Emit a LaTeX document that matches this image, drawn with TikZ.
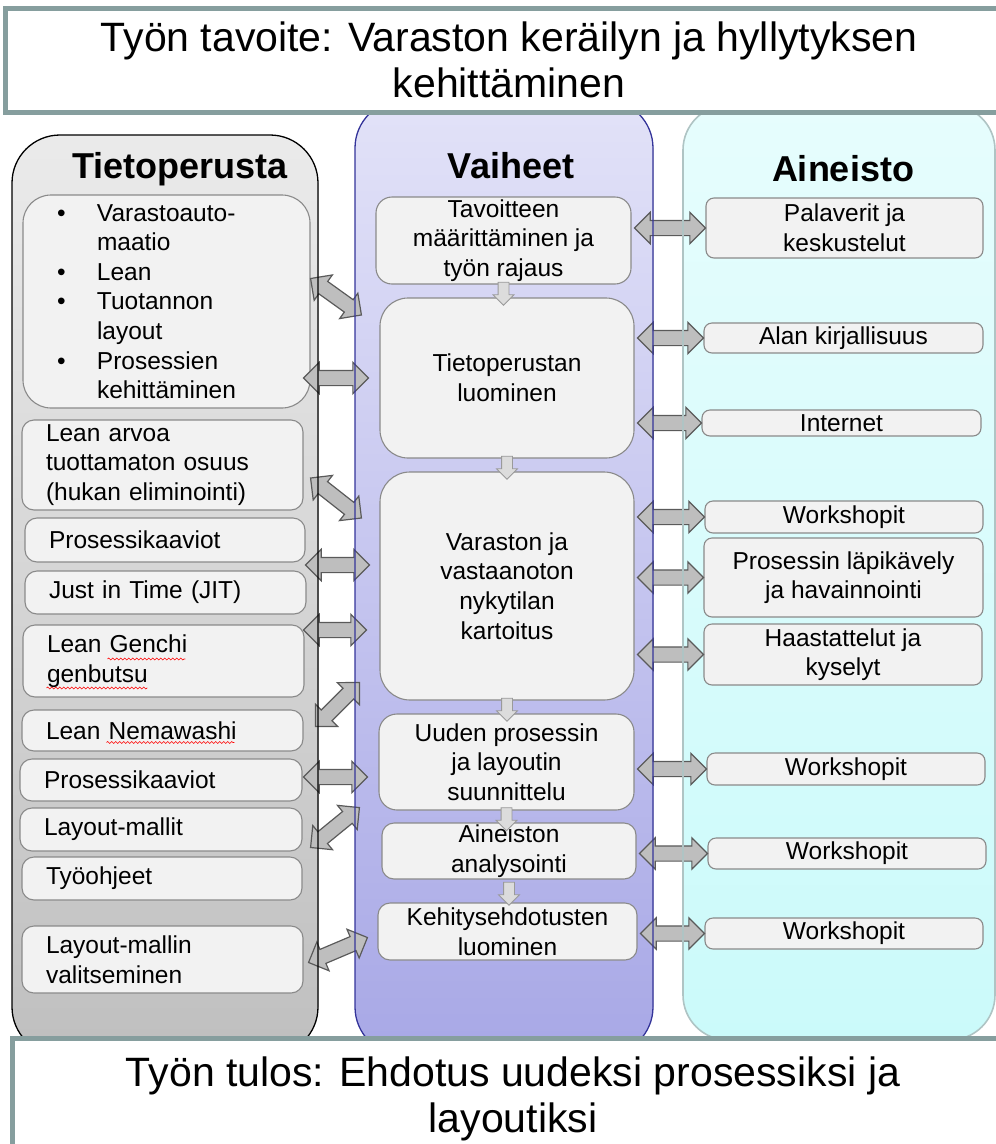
\documentclass[tikz,border=0pt]{standalone}
\usepackage{fontspec}
\setmainfont{Liberation Sans}
\usetikzlibrary{shapes.arrows,calc,decorations.pathmorphing}

\definecolor{framegray}{HTML}{869E9E}
\definecolor{boxfill}{HTML}{F2F2F2}
\definecolor{boxline}{HTML}{8A8A8A}
\definecolor{arrfill}{HTML}{BEBEBE}
\definecolor{arrline}{HTML}{5A5A5A}
\definecolor{stepline}{HTML}{9A9A9A}
\definecolor{stepfill}{HTML}{DCDCDC}
\definecolor{vaiheline}{HTML}{34349A}
\definecolor{aineline}{HTML}{AFC4C4}

\newcommand{\bulitem}{\makebox[40pt][l]{\textbullet}}
\newcommand{\bulcont}{\hspace*{40pt}}
% block double arrow between two points
\newcommand{\dblink}[2]{\path let \p1=(#1), \p2=(#2), \n1={atan2(\y2-\y1,\x2-\x1)}, \n2={veclen(\x2-\x1,\y2-\y1)} in node[dblarrow, rotate=\n1, minimum height=\n2] at ($(\p1)!0.5!(\p2)$) {};}

\begin{document}
\begin{tikzpicture}[x=1pt,y=-1pt,
  pbox/.style={draw=boxline, fill=boxfill, line width=1.1pt, inner sep=0pt, rounded corners=12pt, font=\fontsize{24.5}{29.6}\selectfont, align=center},
  colhead/.style={font=\fontsize{36}{40}\selectfont\bfseries, anchor=base},
  titletext/.style={font=\fontsize{41}{46}\selectfont, align=center},
  dblarrow/.style={double arrow, draw=arrline, fill=arrfill, line width=1.2pt, inner xsep=0pt, inner ysep=7pt, double arrow head extend=8pt},
  downarr/.style={single arrow, draw=stepline, fill=stepfill, line width=0.8pt, inner xsep=0pt, inner ysep=5pt, single arrow head extend=5pt, minimum height=23pt, rotate=-90},
  spell/.style={red, line width=0.6pt, decorate, decoration={snake, amplitude=1pt, segment length=4pt}}]
\useasboundingbox (0,0) rectangle (996,1144);

% columns
\fill[rounded corners=48pt, top color=black!8, bottom color=black!25] (12,135) rectangle (318,1055);
\fill[rounded corners=48pt, top color={rgb,255:red,226;green,226;blue,248}, bottom color={rgb,255:red,168;green,168;blue,230}] (355,100) rectangle (653,1055);
\fill[rounded corners=45pt, top color={rgb,255:red,230;green,253;blue,253}, bottom color={rgb,255:red,203;green,250;blue,250}] (683,105) rectangle (995,1040);

\node[colhead] (hTieto) at (180,178) {Tietoperusta};
\node[colhead] (hVaiheet) at (511,178) {Vaiheet};
\node[colhead] (hAineisto) at (843,181) {Aineisto};

% Tietoperusta
\node[pbox, align=left, rounded corners=28pt, text width=219pt, minimum width=287, minimum height=213] (l1) at (166.5,301.5)
 {\bulitem Varastoauto-\\\bulcont maatio\\\bulitem Lean\\\bulitem Tuotannon\\\bulcont layout\\\bulitem Prosessien\\\bulcont kehittäminen};
\foreach \nm/\xa/\ya/\xb/\yb/\txt in {
  l2/22/420/303/510/{Lean arvoa\\tuottamaton osuus\\(hukan eliminointi)},
  l3/25/518/305/562/{Prosessikaaviot},
  l4/25/571/306/614/{Just in Time (JIT)},
  l5/23/625/304/697/{Lean Genchi\\genbutsu},
  l6/22/710/303/751/{Lean Nemawashi},
  l7/20/759/302/801/{Prosessikaaviot},
  l8/20/808/302/851/{Layout-mallit},
  l9/22/857/302/900/{Työohjeet},
  l10/22/926/303/993/{Layout-mallin\\valitseminen}}{
  \pgfmathsetmacro\tw{\xb-\xa-48}
  \node[pbox, align=left, text width=\tw pt, minimum width={\xb-\xa}, minimum height={\yb-\ya}] (\nm) at ({(\xa+\xb)/2},{(\ya+\yb)/2}) {\txt};
}
\foreach \b/\dx/\dy/\w in {l5/85/-2/78, l5/24/27/101, l6/85/12/128}
  \draw[spell] ($(\b.west)+(\dx,\dy)$) -- ++(\w,0);

% Vaiheet
\foreach \nm/\xa/\ya/\xb/\yb/\rc/\txt in {
  m1/376/197/631/284/16/{Tavoitteen\\määrittäminen ja\\työn rajaus},
  m2/380/298/634/458/28/{Tietoperustan\\luominen},
  m3/380/472/634/700/30/{Varaston ja\\vastaanoton\\nykytilan\\kartoitus},
  m4/379/714/634/810/18/{Uuden prosessin\\ja layoutin\\suunnittelu},
  m5/382/823/636/879/12/{Aineiston\\analysointi},
  m6/378/903/637/960/12/{Kehitysehdotusten\\luominen}}{
  \node[pbox, rounded corners=\rc pt, minimum width={\xb-\xa}, minimum height={\yb-\ya}] (\nm) at ({(\xa+\xb)/2},{(\ya+\yb)/2}) {\txt};
}

% Aineisto
\foreach \nm/\xa/\ya/\xb/\yb/\txt in {
  r1/706/198/983/258/{Palaverit ja\\keskustelut},
  r2/704/323/983/353/{Alan kirjallisuus},
  r3/702/410/981/436/{Internet},
  r4/705/501/983/533/{Workshopit},
  r5/704/538/983/617/{Prosessin läpikävely\\ja havainnointi},
  r6/704/624/982/685/{Haastattelut ja\\kyselyt},
  r7/707/753/985/785/{Workshopit},
  r8/708/838/986/869/{Workshopit},
  r9/705/918/983/949/{Workshopit}}{
  \node[pbox, rounded corners=8pt, minimum width={\xb-\xa}, minimum height={\yb-\ya}] (\nm) at ({(\xa+\xb)/2},{(\ya+\yb)/2}) {\txt};
}

% steps
\foreach \a/\b in {m1/m2,m2/m3,m3/m4,m4/m5,m5/m6}
  \node[downarr] at ($(\a.south)!0.5!(\a.south |- \b.north)$) {};

% links
\foreach \r/\m in {r1/m1,r2/m2,r3/m2,r4/m3,r5/m3,r6/m3,r7/m4,r8/m5,r9/m6}
  \dblink{[xshift=3pt]\m.east |- \r.west}{\r.west};
\dblink{[yshift=23pt]l1.east}{[xshift=-18pt,yshift=63pt]m2.west}
\dblink{[xshift=-7pt]l1.east |- m2.west}{[xshift=-11pt]m2.west}
\dblink{[xshift=7pt,yshift=-13pt]l2.east}{[xshift=-18pt,yshift=68pt]m3.west}
\dblink{[yshift=21pt]l3.east |- m3.west}{[xshift=-10pt,yshift=21pt]m3.west}
\dblink{[xshift=-1pt,yshift=31pt]l5.east}{[xshift=-13pt,yshift=31pt]l5.east -| m3.west}
\dblink{[xshift=12pt,yshift=4pt]l6.east}{[xshift=-20pt,yshift=18pt]m3.south west}
\dblink{[xshift=1pt,yshift=3pt]l7.east}{[xshift=-11pt,yshift=3pt]l7.east -| m4.west}
\dblink{[xshift=8pt,yshift=-18pt]l8.east}{[xshift=-19pt,yshift=3pt]m4.south west}
\dblink{[xshift=5pt,yshift=-3pt]l10.east}{[xshift=-10pt,yshift=-6pt]m6.west}

% column borders
\draw[rounded corners=48pt, line width=1.3pt] (12,135) rectangle (318,1055);
\draw[rounded corners=48pt, vaiheline, line width=1.3pt] (355,100) rectangle (653,1055);
\draw[rounded corners=45pt, aineline, line width=1.6pt] (683,105) rectangle (995,1040);

% goal and result
\draw[framegray, line width=5pt, fill=white] (5,8) rectangle (1010,112);
\node[titletext] (goal) at (509,60) {Työn tavoite: Varaston keräilyn ja hyllytyksen\\kehittäminen};
\draw[framegray, line width=5pt, fill=white] (12,1038) rectangle (1010,1160);
\node[titletext] (result) at (513,1099) {Työn tulos: Ehdotus uudeksi prosessiksi ja\\layoutiksi};
\end{tikzpicture}
\end{document}
